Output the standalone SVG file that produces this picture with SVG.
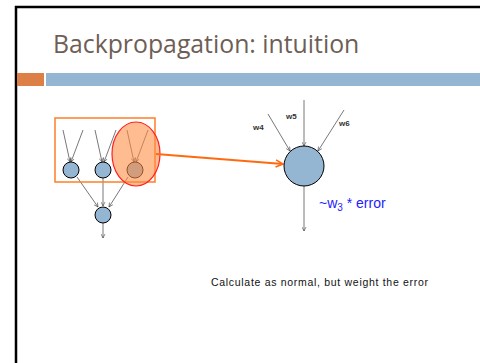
<svg xmlns="http://www.w3.org/2000/svg" width="480" height="363" viewBox="0 0 480 363">
<style>
.node{fill:#94b6d2;stroke:#000;stroke-width:1}
.edge{stroke:#555;stroke-width:0.8;fill:none;marker-end:url(#ah)}
.lbl{font-family:"Liberation Sans",Arial,sans-serif;font-size:8px;font-weight:bold;fill:#333}
</style>
<defs>
<marker id="ah" viewBox="0 0 10 10" refX="9" refY="5" markerWidth="5" markerHeight="5" orient="auto" markerUnits="userSpaceOnUse">
<path d="M1,1 L9,5 L1,9" fill="none" stroke="#444" stroke-width="1.2"/>
</marker>
<marker id="oah" viewBox="0 0 10 10" refX="9" refY="5" markerWidth="9" markerHeight="9" orient="auto" markerUnits="userSpaceOnUse">
<path d="M1,1 L9,5 L1,9" fill="none" stroke="#ff6a10" stroke-width="1.8"/>
</marker>
</defs>
<rect width="480" height="363" fill="#fff"/>
<path d="M16,363 L16,7 L480,7" fill="none" stroke="#000" stroke-width="2.5"/>
<text x="53" y="53" font-family="'Open Sans','Liberation Sans',sans-serif" font-size="24.8" fill="#6e5e56">Backpropagation: intuition</text>
<rect x="17" y="73" width="27" height="13" fill="#dd8047"/>
<rect x="46" y="73" width="434" height="13" fill="#94b6d2"/>

<g id="connectors">
<line class="edge" x1="63" y1="130" x2="70" y2="162"/>
<line class="edge" x1="83" y1="130" x2="71" y2="162"/>
<line class="edge" x1="95" y1="130" x2="102" y2="162"/>
<line class="edge" x1="116" y1="130" x2="104" y2="162"/>
<line class="edge" x1="127" y1="130" x2="134" y2="162"/>
<line class="edge" x1="148" y1="130" x2="136" y2="162"/>
<line class="edge" x1="77" y1="177" x2="98" y2="207"/>
<line class="edge" x1="103" y1="178" x2="103" y2="206"/>
<line class="edge" x1="128" y1="177" x2="109" y2="207"/>
<line class="edge" x1="103" y1="223" x2="103" y2="238"/>
<line class="edge" x1="304" y1="100" x2="304" y2="146"/>
<line class="edge" x1="268" y1="114" x2="290" y2="151"/>
<line class="edge" x1="344" y1="110" x2="318" y2="151"/>
<line class="edge" x1="304" y1="186" x2="304" y2="231"/>
</g>

<g id="layer-box">
<rect x="55" y="118" width="100" height="64" fill="none" stroke="#ff7f27" stroke-width="1.5"/>
</g>
<g id="n1"><circle class="node" cx="71" cy="170" r="8"/></g>
<g id="n2"><circle class="node" cx="103" cy="170" r="8"/></g>
<g id="n3"><circle class="node" cx="135" cy="170" r="8"/></g>
<g id="highlight">
<ellipse cx="136" cy="154" rx="24" ry="32" fill="#ff8c40" fill-opacity="0.58" stroke="#ff2020" stroke-width="1.2"/>
</g>
<g id="n4"><circle class="node" cx="103" cy="215" r="8"/></g>
<g id="orange-arrow">
<line x1="156" y1="154" x2="283" y2="164" stroke="#ff6a10" stroke-width="2" marker-end="url(#oah)"/>
</g>
<g id="big-node"><circle class="node" cx="304" cy="166" r="20"/></g>
<g id="labels">
<text class="lbl" x="253" y="130">w4</text>
<text class="lbl" x="286" y="119">w5</text>
<text class="lbl" x="339" y="126">w6</text>
<text x="319" y="208" font-family="'Liberation Sans',Arial,sans-serif" font-size="14" fill="#2222ff">~w<tspan font-size="10" dy="3">3</tspan><tspan dy="-3"> * error</tspan></text>
<text x="211" y="286" font-family="'Liberation Sans',Arial,sans-serif" font-size="10.5" fill="#111" textLength="217" lengthAdjust="spacing">Calculate as normal, but weight the error</text>
</g>
</svg>
